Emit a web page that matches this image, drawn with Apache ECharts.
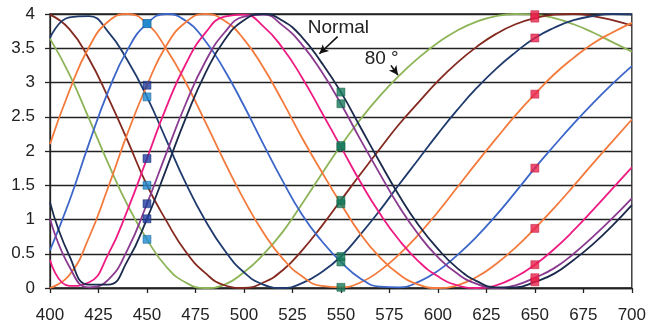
<!DOCTYPE html>
<html>
<head>
<meta charset="utf-8">
<script src="https://cdn.jsdelivr.net/npm/echarts@6/dist/echarts.min.js"></script>
<style>
html,body{margin:0;padding:0;background:#fff;}
#chart{width:649px;height:325px;}
</style>
</head>
<body>
<div id="chart"></div>
<script>
// Wavelength categories (nm)
const wavelengths = [400,410,420,430,440,450,460,470,480,490,500,510,520,530,540,550,560,570,580,590,600,610,620,630,640,650,660,670,680,690,700];

// Curves
const normal  = [1.25,0.47,0.05,0.05,0.40,1.01,1.74,2.48,3.13,3.62,3.91,4.00,3.90,3.66,3.29,2.86,2.35,1.84,1.35,0.92,0.57,0.29,0.10,0.01,0.01,0.09,0.21,0.41,0.64,0.91,1.21];
const purple  = [1.01,0.31,0.01,0.12,0.56,1.23,1.97,2.69,3.30,3.73,3.96,3.99,3.83,3.55,3.16,2.69,2.17,1.67,1.19,0.78,0.45,0.21,0.06,0.00,0.04,0.15,0.29,0.50,0.75,1.02,1.31];
const pink    = [0.41,0.03,0.08,0.49,1.14,1.89,2.64,3.27,3.72,3.96,3.99,3.82,3.50,3.07,2.57,2.06,1.55,1.09,0.70,0.39,0.17,0.04,0.00,0.04,0.16,0.34,0.57,0.84,1.14,1.45,1.76];
const orange2 = [0.00,0.19,0.73,1.47,2.26,2.96,3.54,3.88,4.00,3.90,3.63,3.22,2.72,2.19,1.70,1.23,0.79,0.45,0.20,0.05,0.00,0.04,0.16,0.35,0.59,0.87,1.17,1.49,1.82,2.14,2.46];
const blue    = [0.55,1.27,2.10,2.87,3.48,3.86,4.00,3.90,3.61,3.18,2.66,2.10,1.56,1.07,0.69,0.38,0.14,0.02,0.01,0.09,0.25,0.48,0.75,1.06,1.40,1.75,2.08,2.40,2.70,2.98,3.24];
const orange  = [2.10,2.88,3.51,3.89,4.00,3.86,3.49,3.00,2.43,1.84,1.29,0.81,0.43,0.17,0.03,0.01,0.08,0.25,0.49,0.78,1.11,1.47,1.83,2.18,2.52,2.83,3.12,3.36,3.57,3.73,3.87];
const navy    = [3.65,3.95,3.97,3.74,3.32,2.79,2.16,1.53,0.99,0.55,0.23,0.05,0.00,0.07,0.23,0.46,0.78,1.13,1.51,1.88,2.25,2.60,2.92,3.20,3.44,3.65,3.80,3.91,3.97,4.00,3.99];
const brown   = [3.99,3.78,3.35,2.78,2.15,1.50,0.98,0.53,0.22,0.04,0.00,0.08,0.26,0.55,0.90,1.28,1.66,2.03,2.39,2.71,3.02,3.29,3.52,3.71,3.85,3.94,3.99,4.00,3.97,3.91,3.83];
const green   = [3.64,3.12,2.48,1.82,1.21,0.71,0.31,0.08,0.00,0.05,0.23,0.49,0.82,1.23,1.66,2.08,2.46,2.80,3.10,3.36,3.58,3.76,3.89,3.97,4.00,3.99,3.94,3.85,3.73,3.59,3.45];

// Which curves carry which marker colour at 450 nm
const markerDarkAt450  = ['normal','purple','pink','orange2'];
const markerLightAt450 = ['blue','orange','navy','brown','green'];
const yTicks = [0,0.5,1,1.5,2,2.5,3,3.5,4];
const xTicks = [400,425,450,475,500,525,550,575,600,625,650,675,700];

// Annotations (data coordinates)
const normalLabel = {text:'Normal', at:[548.7,3.80]};
const normalArrow = [[548.3,3.67],[538.9,3.42]];
const angleLabel  = {text:'80 °', at:[571.0,3.34]};
const angleArrow  = [[575.8,3.25],[579.4,3.11]];

const curves = {normal, purple, pink, orange2, blue, orange, navy, brown, green};
const colors = {
  normal:'#1B2A4C', purple:'#8A3A90', pink:'#EE1B82', orange2:'#F47A3C',
  blue:'#3D66C9', orange:'#F47A3C', navy:'#1F3B6E', brown:'#84291F', green:'#8DB457'
};
const drawOrder = ['green','brown','navy','orange','blue','orange2','pink','purple','normal'];

function pairs(arr){ return wavelengths.map((w,i)=>[w,arr[i]]); }
function at(w){ return wavelengths.indexOf(w); }

const series = drawOrder.map(k => ({
  name:k, type:'line', data:pairs(curves[k]), smooth:0.5, showSymbol:false,
  lineStyle:{color:colors[k], width:1.8}, itemStyle:{color:colors[k]}, z:2, silent:true
}));

function markerSeries(keys, w, color, border){
  return {
    type:'scatter', symbol:'rect', symbolSize:8, z:5, silent:true,
    data: keys.map(k => [w, curves[k][at(w)]]),
    itemStyle:{color:color, borderColor:border, borderWidth:0.6}
  };
}
const allKeys = Object.keys(curves);
series.push(markerSeries(markerDarkAt450, 450, '#1E3C9E', '#14296E'));
series.push(markerSeries(markerLightAt450, 450, '#1F8AD0', '#155F96'));
series.push(markerSeries(allKeys, 550, '#177A5C', '#0F5840'));
series.push(markerSeries(allKeys, 650, '#E8214B', '#B81535'));

// Annotation series
series.push({
  type:'line', data:[], silent:true, z:6,
  markLine:{
    silent:true, symbol:['none','arrow'], symbolSize:[7,9],
    lineStyle:{color:'#111', width:1.6, type:'solid'}, label:{show:false},
    data:[
      [{coord:normalArrow[0]},{coord:normalArrow[1]}],
      [{coord:angleArrow[0]},{coord:angleArrow[1]}]
    ]
  },
  markPoint:{
    silent:true, symbol:'circle', symbolSize:0,
    label:{show:true, color:'#222', fontFamily:'Liberation Sans, Arial, sans-serif', fontSize:19, position:'inside'},
    data:[
      {coord:normalLabel.at, value:normalLabel.text, label:{formatter:normalLabel.text}},
      {coord:angleLabel.at, value:angleLabel.text, label:{formatter:angleLabel.text}}
    ]
  }
});

const chart = echarts.init(document.getElementById('chart'), null, {renderer:'canvas'});
chart.setOption({
  animation:false,
  backgroundColor:'#fff',
  grid:{left:50, right:16, top:14, bottom:37, show:true, borderColor:'#222', borderWidth:1.3, backgroundColor:'transparent'},
  xAxis:{
    type:'value', min:xTicks[0], max:xTicks[xTicks.length-1], interval:25,
    axisLine:{show:true, lineStyle:{color:'#222', width:1.3}},
    axisTick:{show:true, inside:false, length:5, lineStyle:{color:'#222', width:1.3}},
    splitLine:{show:false},
    axisLabel:{color:'#222', fontSize:17, fontFamily:'Liberation Sans, Arial, sans-serif', margin:19}
  },
  yAxis:{
    type:'value', min:yTicks[0], max:yTicks[yTicks.length-1], interval:0.5,
    axisLine:{show:true, lineStyle:{color:'#222', width:1.3}},
    axisTick:{show:true, inside:false, length:5, lineStyle:{color:'#222', width:1.3}},
    splitLine:{show:true, lineStyle:{color:'#222', width:1.3}},
    axisLabel:{color:'#222', fontSize:17, fontFamily:'Liberation Sans, Arial, sans-serif', margin:15}
  },
  series:series
});
</script>
</body>
</html>
